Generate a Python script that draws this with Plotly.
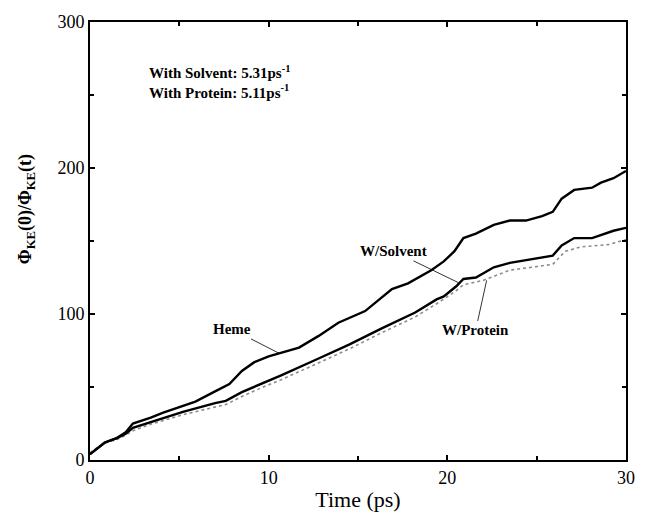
import plotly.graph_objects as go

# Heme (top curve)
heme_t = [0, 0.4, 0.83, 1.5, 2.0, 2.4, 3.4, 4.1, 5.2, 5.9, 7.0, 7.8, 8.5, 9.2, 10.0, 10.6, 11.7,
          12.8, 13.9, 15.4, 16.9, 17.8, 19.1, 19.8, 20.4, 20.9, 21.6, 22.6, 23.5, 24.4, 25.3,
          25.9, 26.4, 27.1, 28.1, 28.6, 29.3, 30.0]
heme_v = [4, 8, 12, 15, 19, 25, 29, 32.5, 37, 40, 47, 52, 61, 67, 71, 73, 77,
          85, 94, 102, 117, 121, 130, 136, 143, 152, 155, 161, 164, 164, 167,
          170, 179, 185, 186.5, 190, 193, 198]

# W/Solvent (middle curve)
solv_t = [0, 0.4, 0.83, 1.5, 2.0, 2.4, 3.4, 5.2, 7.0, 7.6, 8.5, 9.6, 10.7, 12.7, 14.5, 16.3,
          18.2, 19.4, 19.8, 20.5, 20.9, 21.6, 22.6, 23.5, 24.4, 25.9, 26.4, 27.1, 28.1,
          28.6, 29.3, 30.0]
solv_v = [4, 8, 12, 15, 18, 22, 26, 33, 39, 40.5, 46.5, 52, 58, 69, 79, 90,
          101, 110, 112, 119, 124, 125, 132, 135, 137, 140, 147, 152, 152,
          154, 157, 159]

# W/Protein (grey dotted curve)
prot_t = [0, 0.4, 0.83, 1.5, 2.0, 2.4, 3.4, 5.2, 7.6, 8.5, 9.6, 10.7, 12.7, 14.5, 16.3, 18.2,
          19.4, 20.5, 20.9, 22.0, 23.5, 25.9, 26.6, 27.5, 29.0, 30.0]
prot_v = [5, 8.5, 11.5, 14, 17, 20, 24.5, 31, 38, 43.5, 49.5, 55, 66, 76, 87, 98,
          107, 116, 120, 123, 130, 134, 143, 146, 147.5, 151]

x_ticks = [0, 10, 20, 30]
y_ticks = [0, 100, 200, 300]

FONT = "Liberation Serif"

fig = go.Figure()
fig.add_trace(go.Scatter(x=prot_t, y=prot_v, mode="lines",
                         line=dict(color="#8c8c8c", width=1.6, dash="dot")))
fig.add_trace(go.Scatter(x=solv_t, y=solv_v, mode="lines",
                         line=dict(color="black", width=2.4)))
fig.add_trace(go.Scatter(x=heme_t, y=heme_v, mode="lines",
                         line=dict(color="black", width=2.4)))

axis_common = dict(showgrid=False, zeroline=False, showline=True, linecolor="black",
                   linewidth=2, mirror="allticks", ticks="inside", ticklen=5,
                   tickwidth=1.5, tickcolor="black",
                   tickfont=dict(family=FONT, size=18, color="black"))

fig.update_xaxes(range=[0, 30], tickvals=x_ticks,
                 minor=dict(ticks="inside", dtick=5, ticklen=4, tickcolor="black", tickwidth=1.5),
                 title=dict(text="Time (ps)", font=dict(family=FONT, size=22, color="black"),
                            standoff=5),
                 **axis_common)
fig.update_yaxes(range=[0, 300], tickvals=y_ticks,
                 minor=dict(ticks="inside", dtick=50, ticklen=4, tickcolor="black", tickwidth=1.5),
                 **axis_common)

# y-axis title (placed above centre, as in the original)
fig.add_annotation(x=-0.119, y=0.573, xref="paper", yref="paper", textangle=-90,
                   showarrow=False, xanchor="center", yanchor="middle",
                   text="<b>Φ<sub>KE</sub>(0)/Φ<sub>KE</sub>(t)</b>",
                   font=dict(family=FONT, size=18, color="black"))

ann_font = dict(family=FONT, size=15, color="black")
fig.add_annotation(x=3.2, y=259, xref="x", yref="y", xanchor="left", align="left",
                   showarrow=False,
                   text="<b>With Solvent: 5.31ps<sup>-1</sup><br>With Protein: 5.11ps<sup>-1</sup></b>",
                   font=ann_font)
fig.add_annotation(x=10.6, y=73, text="<b>Heme</b>", font=ann_font, showarrow=True,
                   arrowhead=0, arrowwidth=0.8, arrowcolor="black", ax=-47, ay=-24)
fig.add_annotation(x=20.7, y=121, text="<b>W/Solvent</b>", font=ann_font, showarrow=True,
                   arrowhead=0, arrowwidth=0.8, arrowcolor="black", ax=-66, ay=-32)
fig.add_annotation(x=22.2, y=123, text="<b>W/Protein</b>", font=ann_font, showarrow=True,
                   arrowhead=0, arrowwidth=0.8, arrowcolor="black", ax=-11, ay=50)

fig.update_layout(width=647, height=520, showlegend=False,
                  plot_bgcolor="white", paper_bgcolor="white",
                  margin=dict(l=90, r=12, t=18, b=52),
                  font=dict(family=FONT, color="black"))

fig.write_html("out.html")
